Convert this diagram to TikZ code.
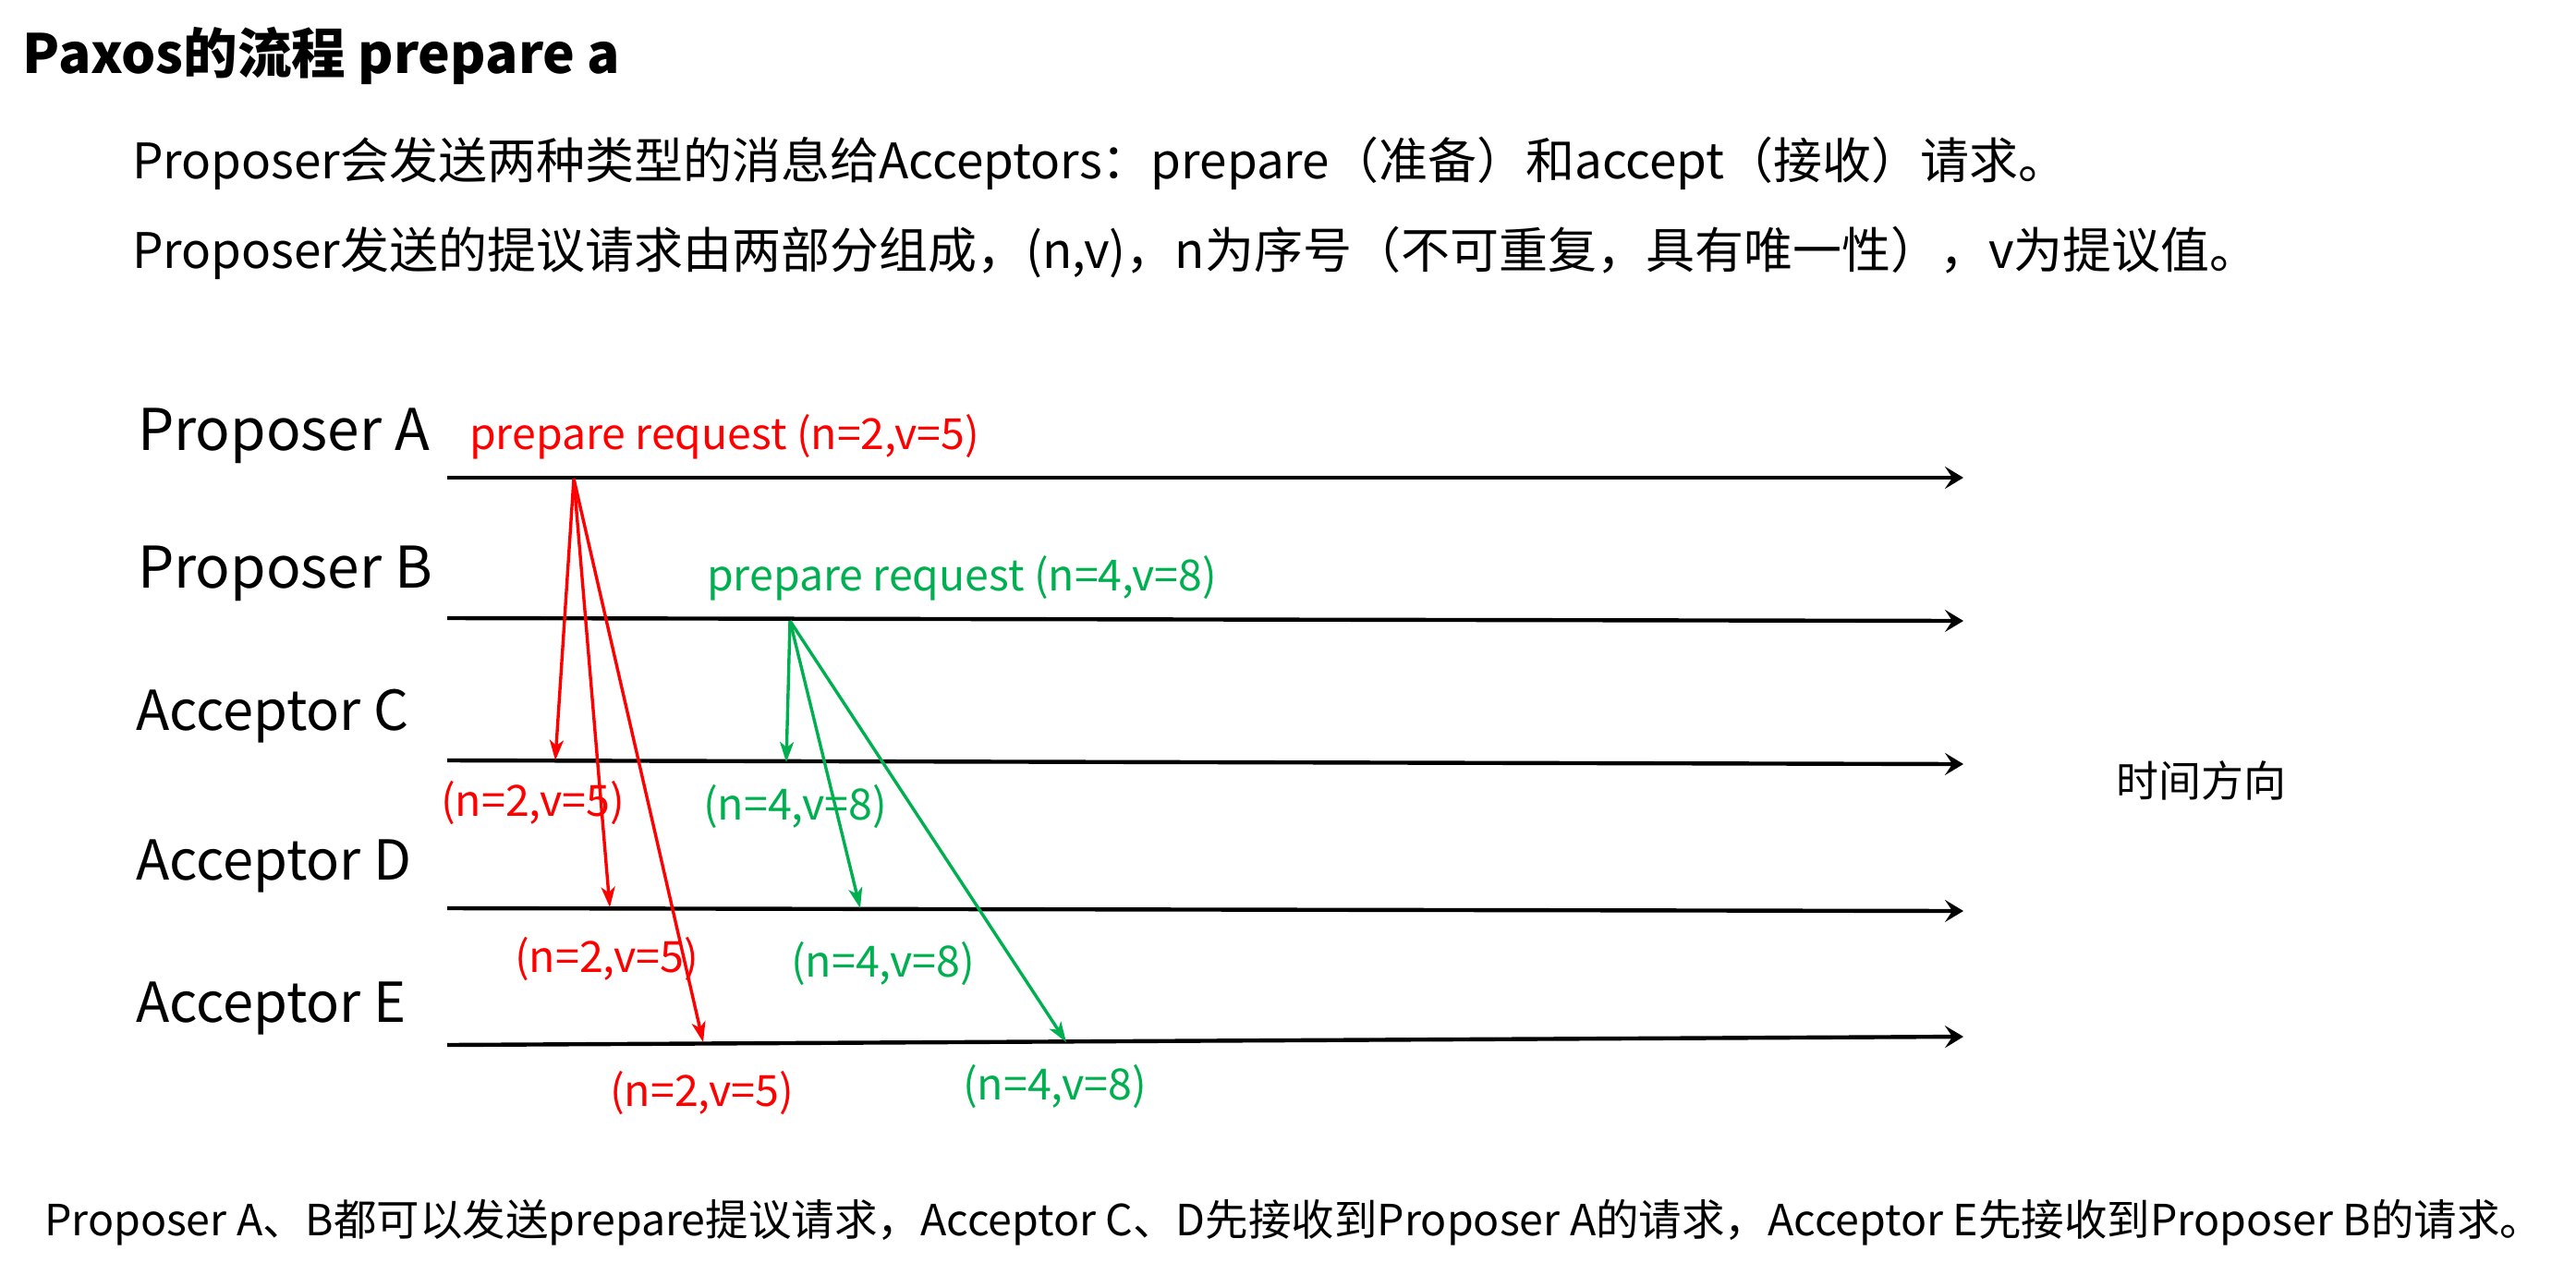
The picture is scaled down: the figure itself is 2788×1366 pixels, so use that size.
\documentclass[tikz,border=0pt]{standalone}
\usepackage{fontspec}
\setmainfont{Noto Sans CJK SC}
\usetikzlibrary{arrows.meta}
\definecolor{pred}{RGB}{255,0,0}
\definecolor{pgreen}{RGB}{0,176,80}
\newcommand\fsz[1]{\fontsize{#1pt}{#1pt}\selectfont}
\begin{document}
\begin{tikzpicture}[x=0.5pt,y=-0.5pt,
  lane/.style={line width=2.2pt,-{Stealth[length=10pt,width=12pt,inset=4pt]}},
  msg/.style={line width=1.7pt,-{Stealth[length=11pt,width=7.5pt,inset=3pt]}},
  txt/.style={anchor=base west,inner sep=0pt,outer sep=0pt},
  title/.style={txt,font=\fsz{29.3}\bfseries},
  body/.style={txt,font=\fsz{26.5}},
  proplbl/.style={txt,font=\fsz{31.1}},
  acclbl/.style={txt,font=\fsz{29.8}},
  lbl/.style={txt,font=\fsz{23.3}}]
\fill[white] (0,0) rectangle (2788,1366);
\useasboundingbox (0,0) rectangle (2788,1366);

% texts
\node[title] (t) at (25,79) {Paxos的流程 prepare a};
\node[body] (l1) at (143,193) {Proposer会发送两种类型的消息给Acceptors：prepare（准备）和accept（接收）请求。};
\node[body] (l2) at (143,290) {Proposer发送的提议请求由两部分组成，(n,v)，n为序号（不可重复，具有唯一性），v为提议值。};

\node[proplbl] (pa) at (149,487) {Proposer A};
\node[proplbl] (pb) at (149,636) {Proposer B};
\node[acclbl] (ac) at (147,790) {Acceptor C};
\node[acclbl] (ad) at (147,952) {Acceptor D};
\node[acclbl] (ae) at (147,1106) {Acceptor E};

% lanes
\coordinate (A0) at (484,517);  \coordinate (A1) at (2125,517);
\coordinate (B0) at (484,669);  \coordinate (B1) at (2125,672);
\coordinate (C0) at (484,823);  \coordinate (C1) at (2125,827);
\coordinate (D0) at (484,983);  \coordinate (D1) at (2125,986);
\coordinate (E0) at (484,1131); \coordinate (E1) at (2125,1122);
\draw[lane] (A0) -- (A1);
\draw[lane] (B0) -- (B1);
\draw[lane] (C0) -- (C1);
\draw[lane] (D0) -- (D1);
\draw[lane] (E0) -- (E1);

% messages
\coordinate (rs) at (621,518);
\coordinate (rc) at (601,823);
\coordinate (rd) at (660,982);
\coordinate (re) at (761,1128);
\coordinate (gs) at (855,672);
\coordinate (gc) at (851,825);
\coordinate (gd) at (931,983);
\coordinate (ge) at (1154,1128);
\draw[msg,pred] (rs) -- (rc);
\draw[msg,pred] (rs) -- (rd);
\draw[msg,pred] (rs) -- (re);
\draw[msg,pgreen] (gs) -- (gc);
\draw[msg,pgreen] (gs) -- (gd);
\draw[msg,pgreen] (gs) -- (ge);

\node[lbl,font=\fsz{23.2},text=pred] (pra) at (508,486) {prepare request (n=2,v=5)};
\node[lbl,font=\fsz{23.2},text=pgreen] (prb) at (765,639) {prepare request (n=4,v=8)};
\node[lbl,text=pred] (r1) at (477,883) {(n=2,v=5)};
\node[lbl,text=pred] (r2) at (557,1052) {(n=2,v=5)};
\node[lbl,text=pred] (r3) at (660,1197) {(n=2,v=5)};
\node[lbl,text=pgreen] (g1) at (761,887) {(n=4,v=8)};
\node[lbl,text=pgreen] (g2) at (856,1057) {(n=4,v=8)};
\node[lbl,text=pgreen] (g3) at (1042,1190) {(n=4,v=8)};

\node[lbl,font=\fsz{23}] (time) at (2290,862) {时间方向};

\node[lbl,font=\fsz{23.25}] (bot) at (48,1337) {Proposer A、B都可以发送prepare提议请求，Acceptor C、D先接收到Proposer A的请求，Acceptor E先接收到Proposer B的请求。};
\end{tikzpicture}
\end{document}
